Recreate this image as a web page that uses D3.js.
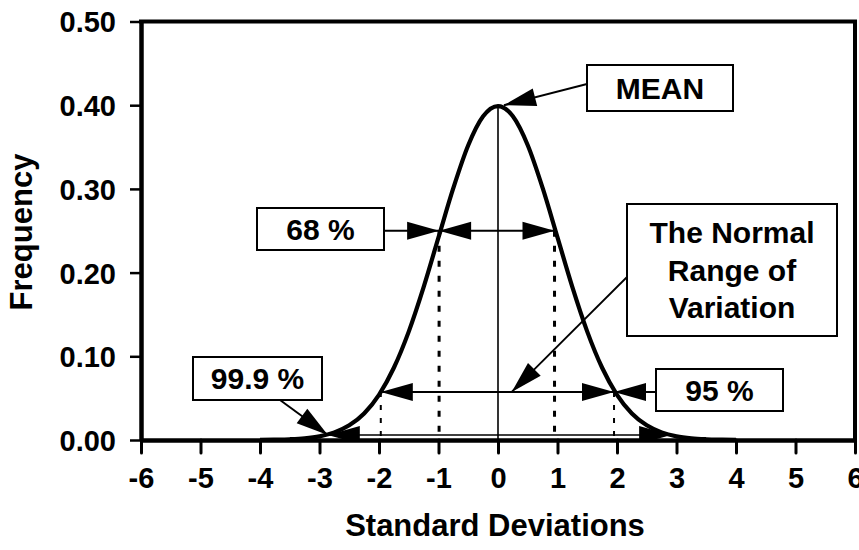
<!DOCTYPE html>
<html>
<head>
<meta charset="utf-8">
<script src="https://cdn.jsdelivr.net/npm/d3@7"></script>
<style>
  html, body { margin: 0; padding: 0; background: #fff; }
  svg { display: block; }
  text { font-family: "Liberation Sans", Arial, sans-serif; font-weight: bold; fill: #000; }
</style>
</head>
<body>
<svg id="chart" width="859" height="550"></svg>
<script>
// ---------------- data ----------------
const sdTicks = [-6, -5, -4, -3, -2, -1, 0, 1, 2, 3, 4, 5, 6];
const freqTicks = [0.0, 0.1, 0.2, 0.3, 0.4, 0.5];

// bell curve (standard deviations vs frequency)
const curveSD = [-4, -3.75, -3.5, -3.25, -3, -2.75, -2.5, -2.25, -2, -1.75, -1.5, -1.25, -1, -0.75, -0.5, -0.25,
                 0, 0.25, 0.5, 0.75, 1, 1.25, 1.5, 1.75, 2, 2.25, 2.5, 2.75, 3, 3.25, 3.5, 3.75, 4];
const curveFreq = [0.0001, 0.0004, 0.0009, 0.0020, 0.0044, 0.0091, 0.0175, 0.0317, 0.0540, 0.0863, 0.1295, 0.1826,
                   0.2420, 0.3011, 0.3521, 0.3867, 0.3989, 0.3867, 0.3521, 0.3011, 0.2420, 0.1826, 0.1295, 0.0863,
                   0.0540, 0.0317, 0.0175, 0.0091, 0.0044, 0.0020, 0.0009, 0.0004, 0.0001];

// annotation ranges (in standard deviations / frequency)
const meanSD = 0;
const meanPeak = 0.399;
const range68 = [-0.99, 0.95];
const level68 = 0.250;
const range95 = [-1.97, 1.95];
const level95 = 0.0574;
const range999 = [-2.86, 2.91];
const level999 = 0.006;
const meanTip = [0.1, 0.4];
const normalTip = [0.23, 0.0574];

const labels = {
  mean: "MEAN",
  p68: "68 %",
  p95: "95 %",
  p999: "99.9 %",
  normal: ["The Normal", "Range of", "Variation"],
  xTitle: "Standard Deviations",
  yTitle: "Frequency"
};

// ---------------- layout ----------------
const svg = d3.select("#chart");
const x = d3.scaleLinear().domain([-6, 6]).range([141, 855]);
const y = d3.scaleLinear().domain([0, 0.5]).range([440, 21.5]);

const plot = svg.append("g");
svg.append("defs").append("clipPath").attr("id", "plotclip")
  .append("rect").attr("x", 141).attr("y", 21.5).attr("width", 714).attr("height", 418.5);

const ann = plot.append("g").attr("clip-path", "url(#plotclip)");

// vertical mean line
ann.append("line")
  .attr("x1", x(meanSD)).attr("x2", x(meanSD))
  .attr("y1", y(meanPeak)).attr("y2", y(0))
  .attr("stroke", "#000").attr("stroke-width", 1.6);

// dotted lines at 68%
range68.forEach(v => {
  ann.append("line")
    .attr("x1", x(v)).attr("x2", x(v))
    .attr("y1", y(level68)).attr("y2", y(0))
    .attr("stroke", "#000").attr("stroke-width", 3)
    .attr("stroke-dasharray", "6,9");
});
// dotted lines at 95%
range95.forEach(v => {
  ann.append("line")
    .attr("x1", x(v)).attr("x2", x(v))
    .attr("y1", y(level95)).attr("y2", y(0))
    .attr("stroke", "#000").attr("stroke-width", 2)
    .attr("stroke-dasharray", "5,8");
});

// curve
const pts = curveSD.map((d, i) => [d, curveFreq[i]]);
ann.append("path")
  .datum(pts)
  .attr("d", d3.line().x(d => x(d[0])).y(d => y(d[1])).curve(d3.curveMonotoneX))
  .attr("fill", "none").attr("stroke", "#000").attr("stroke-width", 4.2)
  .attr("stroke-linejoin", "round");

// arrows
function head(g, fx, fy, tx, ty, L = 32, h = 9) {
  const dx = tx - fx, dy = ty - fy, len = Math.hypot(dx, dy);
  const ux = dx / len, uy = dy / len;
  const bx = tx - ux * L, by = ty - uy * L;
  const px = -uy, py = ux;
  g.append("path")
    .attr("d", `M${tx},${ty}L${bx + px * h},${by + py * h}L${bx - px * h},${by - py * h}Z`)
    .attr("fill", "#000");
}
function arrow(g, fx, fy, tx, ty, sw = 2, both = false) {
  g.append("line").attr("x1", fx).attr("y1", fy).attr("x2", tx).attr("y2", ty)
    .attr("stroke", "#000").attr("stroke-width", sw);
  head(g, fx, fy, tx, ty);
  if (both) head(g, tx, ty, fx, fy);
}

// 68% double arrow
arrow(ann, x(range68[0]), y(level68), x(range68[1]), y(level68), 2, true);
// 95% double arrow
arrow(ann, x(range95[0]), y(level95), x(range95[1]), y(level95), 2, true);
// 99.9% double arrow near the baseline
arrow(ann, x(range999[0]), y(level999), x(range999[1]), y(level999), 1.6, true);

// box annotations
function box(cx, cy, w, h, lines, lh) {
  const g = plot.append("g");
  g.append("rect").attr("x", cx - w / 2).attr("y", cy - h / 2).attr("width", w).attr("height", h)
    .attr("fill", "#fff").attr("stroke", "#000").attr("stroke-width", 2);
  const n = lines.length;
  lines.forEach((t, i) => {
    g.append("text").attr("x", cx).attr("y", cy + (i - (n - 1) / 2) * lh)
      .attr("dy", "0.36em").attr("text-anchor", "middle")
      .style("font-size", "30px").text(t);
  });
}

const aG = plot.append("g");
// MEAN
arrow(aG, 587, 84, x(meanTip[0]), y(meanTip[1]), 2);
// 68% pointer
arrow(aG, 384, y(level68), x(range68[0]), y(level68), 2);
// 95% pointer
arrow(aG, 656, y(level95), x(range95[1]), y(level95), 2);
// normal range pointer
arrow(aG, 628, 276, x(normalTip[0]), y(normalTip[1]), 1.8);
// 99.9% pointer
arrow(aG, 280, 400, x(range999[0]), y(level999), 2);

box(660, 88, 146, 46, [labels.mean], 0);
box(320.5, 229, 127, 42, [labels.p68], 0);
box(719.5, 390, 127, 42, [labels.p95], 0);
box(257.5, 378.5, 129, 43, [labels.p999], 0);
box(732, 270, 210, 132, labels.normal, 37.5);

// ---------------- axes ----------------
const yAxis = d3.axisLeft(y).tickValues(freqTicks).tickFormat(d3.format(".2f"))
  .tickSizeInner(11).tickSizeOuter(0).tickPadding(14);
const yg = svg.append("g").attr("transform", "translate(141,0)").call(yAxis);
yg.select(".domain").attr("stroke-width", 4.5).attr("stroke", "#000");
yg.selectAll(".tick line").attr("stroke-width", 2.5).attr("stroke", "#000");
yg.selectAll(".tick text").style("font-size", "29px").attr("fill", "#000").attr("dy", "0.36em");

const xAxis = d3.axisBottom(x).tickValues(sdTicks).tickFormat(d3.format("d"))
  .tickSizeInner(13).tickSizeOuter(0).tickPadding(14);
const xg = svg.append("g").attr("transform", "translate(0,440)").call(xAxis);
xg.select(".domain").attr("stroke-width", 4.5).attr("stroke", "#000");
xg.selectAll(".tick line").attr("stroke-width", 3).attr("stroke", "#000").attr("stroke-linecap", "round");
xg.selectAll(".tick text").style("font-size", "29px").attr("fill", "#000");
xg.selectAll(".tick text").text(d => d < 0 ? "-" + Math.abs(d) : d);

// frame top and right
svg.append("line").attr("x1", 139).attr("x2", 857).attr("y1", y(0.5)).attr("y2", y(0.5))
  .attr("stroke", "#000").attr("stroke-width", 4);
svg.append("line").attr("x1", 855).attr("x2", 855).attr("y1", y(0.5)).attr("y2", 442)
  .attr("stroke", "#000").attr("stroke-width", 4);

// titles
svg.append("text").attr("x", 495).attr("y", 536).attr("text-anchor", "middle")
  .style("font-size", "31px").text(labels.xTitle);
svg.append("text").attr("transform", "translate(32,232) rotate(-90)").attr("text-anchor", "middle")
  .style("font-size", "31px").text(labels.yTitle);
</script>
</body>
</html>
